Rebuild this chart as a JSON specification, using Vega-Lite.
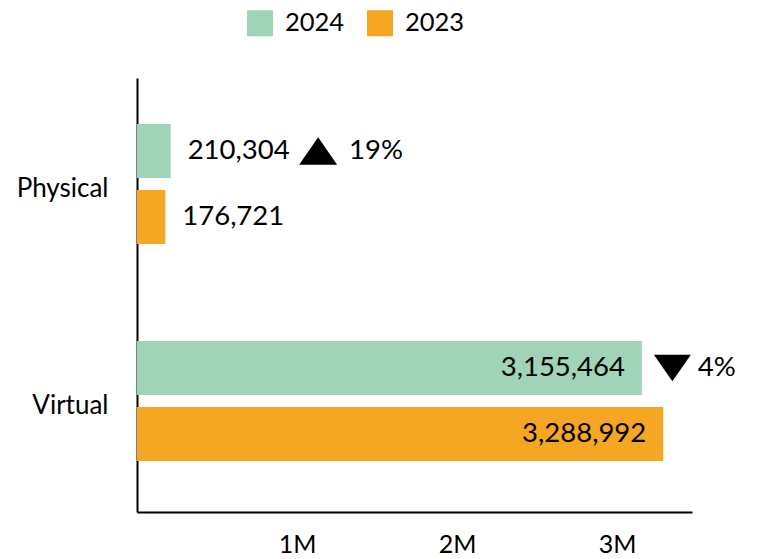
{
  "$schema": "https://vega.github.io/schema/vega-lite/v6.json",
  "width": 555,
  "height": 434,
  "autosize": {"type": "none"},
  "padding": {"left": 137, "top": 78, "right": 65, "bottom": 47},
  "config": {"view": {"stroke": null}, "font": "Lato", "text": {"font": "Lato", "color": "#000000"}},
  "data": {
    "values": [
      {"type": "Physical", "year": "2024", "value": 210304, "change": "19%", "dir": "up"},
      {"type": "Physical", "year": "2023", "value": 176721},
      {"type": "Virtual", "year": "2024", "value": 3155464, "change": "4%", "dir": "down"},
      {"type": "Virtual", "year": "2023", "value": 3288992}
    ]
  },
  "encoding": {
    "y": {
      "field": "type", "type": "nominal", "sort": ["Physical", "Virtual"],
      "scale": {"paddingInner": 0.447, "paddingOuter": 0.2235, "align": 0.474},
      "axis": {"title": null, "ticks": false, "domainColor": "#000000", "domainWidth": 2, "labelFontSize": 26, "labelFont": "Lato", "labelColor": "#000000", "labelPadding": 29, "labelOffset": 5}
    },
    "yOffset": {"field": "year", "type": "nominal", "sort": ["2024", "2023"], "scale": {"paddingInner": 0.182, "paddingOuter": 0}},
    "x": {
      "field": "value", "type": "quantitative",
      "scale": {"domain": [0, 3468750], "nice": false, "zero": true},
      "axis": {"title": null, "values": [1000000, 2000000, 3000000], "labelExpr": "datum.value / 1000000 + 'M'", "ticks": false, "grid": false, "domainColor": "#000000", "domainWidth": 2, "labelFontSize": 25, "labelFont": "Lato", "labelColor": "#000000", "labelPadding": 20}
    }
  },
  "layer": [
    {
      "mark": {"type": "bar"},
      "encoding": {
        "color": {
          "field": "year", "type": "nominal",
          "scale": {"domain": ["2024", "2023"], "range": ["#9fd4b8", "#f5a623"]},
          "legend": {"title": null, "orient": "none", "legendX": 110, "legendY": -68, "direction": "horizontal", "symbolType": "square", "symbolSize": 676, "symbolStrokeWidth": 0, "symbolOpacity": 1, "labelFontSize": 25.5, "labelFont": "Lato", "labelColor": "#000000", "labelOffset": 12, "columnPadding": 22, "padding": 0}
        }
      }
    },
    {
      "transform": [{"filter": "datum.value < 1000000"}],
      "mark": {"type": "text", "align": "left", "baseline": "middle", "dx": 17, "fontSize": 27.5},
      "encoding": {"text": {"field": "value", "type": "quantitative", "format": ","}}
    },
    {
      "transform": [{"filter": "datum.value >= 1000000"}],
      "mark": {"type": "text", "align": "right", "baseline": "middle", "dx": -17, "fontSize": 27.5},
      "encoding": {"text": {"field": "value", "type": "quantitative", "format": ","}}
    },
    {
      "transform": [{"filter": "datum.dir == 'up'"}],
      "mark": {"type": "point", "shape": "M0,-0.72L1,0.72L-1,0.72Z", "size": 1444, "filled": true, "color": "#000000", "opacity": 1, "xOffset": 147.5},
      "encoding": {}
    },
    {
      "transform": [{"filter": "datum.dir == 'down'"}],
      "mark": {"type": "point", "shape": "M-1,-0.72L1,-0.72L0,0.72Z", "size": 1369, "filled": true, "color": "#000000", "opacity": 1, "xOffset": 30.5},
      "encoding": {}
    },
    {
      "transform": [{"filter": "datum.dir == 'up'"}],
      "mark": {"type": "text", "align": "left", "baseline": "middle", "dx": 178.4, "fontSize": 27.5},
      "encoding": {"text": {"field": "change", "type": "nominal"}}
    },
    {
      "transform": [{"filter": "datum.dir == 'down'"}],
      "mark": {"type": "text", "align": "left", "baseline": "middle", "dx": 56, "fontSize": 27.5},
      "encoding": {"text": {"field": "change", "type": "nominal"}}
    }
  ]
}
